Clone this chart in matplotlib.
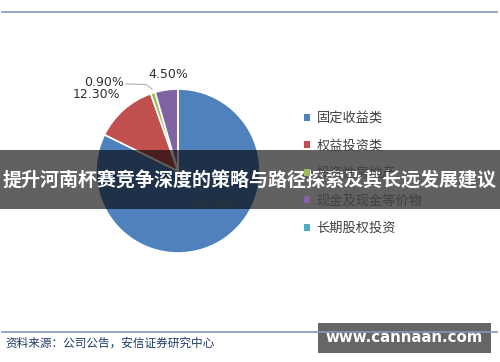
import matplotlib.pyplot as plt
from matplotlib.patches import Rectangle

plt.rcParams['font.family'] = ['Noto Sans CJK SC', 'DejaVu Sans']

# data
categories = ['固定收益类', '权益投资类', '投资性房地产', '现金及现金等价物', '长期股权投资']
shares = [82.3, 12.3, 0.9, 4.5, 0.0]
colors = ['#4f81bd', '#c0504d', '#9bbb59', '#8064a2', '#4bacc6']
pct_labels = ['82.30%', '12.30%', '0.90%', '4.50%']
title = '提升河南杯赛竞争深度的策略与路径探索及其长远发展建议'
source = '资料来源：公司公告，安信证券研究中心'
watermark = 'www.cannaan.com'

W, H = 500, 362
fig = plt.figure(figsize=(5, 3.62), dpi=100)
ax = fig.add_axes([0, 0, 1, 1])

wedges, _ = ax.pie(shares, colors=colors, startangle=90, counterclock=False,
                   center=(178, H - 171), radius=82, frame=True,
                   wedgeprops=dict(edgecolor='white', linewidth=1.2))
ax.set_xlim(0, W)
ax.set_ylim(0, H)
ax.set_aspect('equal')
ax.axis('off')

# percentage labels
txt = dict(fontsize=9, color='#303030', family=['DejaVu Sans'])
ax.text(216, H - 205, pct_labels[0], ha='center', va='center', **txt)
ax.text(96, H - 95, pct_labels[1], ha='center', va='center', **txt)
ax.text(104, H - 82, pct_labels[2], ha='center', va='center', **txt)
ax.text(168, H - 74, pct_labels[3], ha='center', va='center', **txt)
ax.plot([126, 146, 152], [H - 84, H - 84.5, H - 89], color='#b0b0b0', lw=0.8)

# legend with plain square markers
handles = [Rectangle((0, 0), 1, 1, facecolor=c, edgecolor='none') for c in colors]
ax.legend(handles, categories, loc='upper left', bbox_to_anchor=(292, H - 100),
          bbox_transform=ax.transData, frameon=False, fontsize=9.5,
          handlelength=0.45, handleheight=0.45, handletextpad=0.5,
          labelspacing=1.1, labelcolor='#404040')

# top and bottom rules
ax.plot([2, 497], [H - 11.5, H - 11.5], color='#8496c0', lw=1.2)
ax.plot([2, 497], [H - 332, H - 332], color='#8496c0', lw=1.2)
ax.text(5, H - 343, source, fontsize=8.4, color='#1f3a68', style='italic',
        ha='left', va='center')

# title banner
ax.add_patch(Rectangle((0, H - 209), W, 59, color='black', alpha=0.62, lw=0))
ax.text(W / 2, H - 180, title, fontsize=13.7, color='white', weight='bold',
        ha='center', va='center')

# watermark box
ax.add_patch(Rectangle((318, H - 353), 173, 30, color='#666666', lw=0))
ax.text(404, H - 338, watermark, fontsize=10.8, color='white', weight='bold',
        ha='center', va='center', family=['DejaVu Sans'])

fig.savefig('out.png', dpi=100)
